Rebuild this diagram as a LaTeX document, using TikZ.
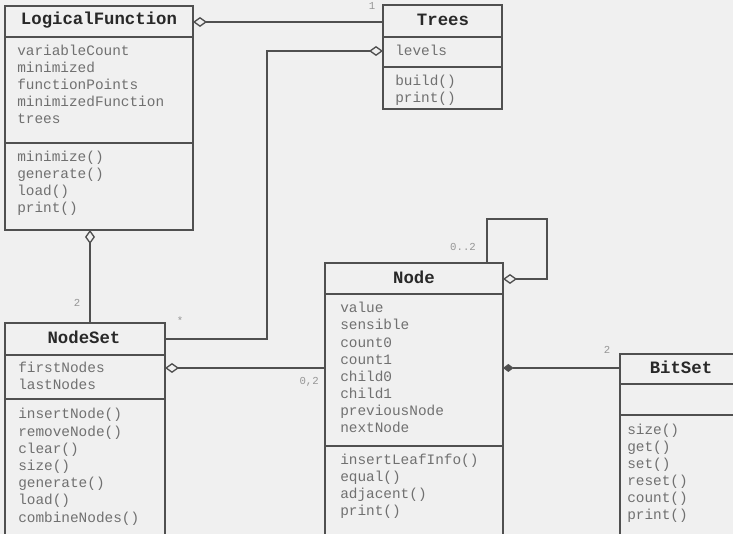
\documentclass[tikz,border=0pt]{standalone}
\usepackage{fontspec}
\setmainfont{Liberation Mono}
\usetikzlibrary{arrows.meta}
\definecolor{bg}{RGB}{240,240,240}
\definecolor{ink}{RGB}{80,80,80}
\definecolor{txt}{RGB}{112,112,112}
\definecolor{ttl}{RGB}{40,40,40}
\definecolor{lbl}{RGB}{150,150,150}
\tikzset{
  classbox/.style={draw=ink, line width=1pt, fill=bg, anchor=north west, inner sep=0pt, outer sep=0pt},
  member/.style={anchor=west, inner sep=0pt, text=txt, font=\fontsize{10.8}{12}\selectfont, text height=1.5ex, text depth=0.4ex},
  ctitle/.style={inner sep=0pt, text=ttl, font=\fontsize{13}{15}\selectfont\bfseries, text height=1.5ex, text depth=0.4ex},
  sep/.style={draw=ink, line width=1pt},
  link/.style={draw=ink, line width=1pt},
  agg/.style={link, {Diamond[open, length=10.5pt, width=7.5pt]}-},
  comp/.style={link, {Diamond[length=8pt, width=6pt]}-},
  mult/.style={text=lbl, font=\fontsize{8}{9}\selectfont, inner sep=0pt},
}
\begin{document}
\begin{tikzpicture}[x=0.75pt, y=-0.75pt]
  \useasboundingbox (0,0) rectangle (733,534);
  \clip (0,0) rectangle (733,534);
  \fill[bg] (0,0) rectangle (733,534);

  % class boxes
  \node[classbox, minimum width=188*0.75pt, minimum height=224*0.75pt] (lf) at (5,6) {};
  \node[classbox, minimum width=119*0.75pt, minimum height=104*0.75pt] (trees) at (383,5) {};
  \node[classbox, minimum width=160*0.75pt, minimum height=240*0.75pt] (ns) at (5,323) {};
  \node[classbox, minimum width=178*0.75pt, minimum height=300*0.75pt] (node) at (325,263) {};
  \node[classbox, minimum width=130*0.75pt, minimum height=220*0.75pt] (bs) at (620,354) {};

  % compartment separators
  \draw[sep] (lf.west |- 0,37) -- (lf.east |- 0,37);
  \draw[sep] (lf.west |- 0,143) -- (lf.east |- 0,143);
  \draw[sep] (trees.west |- 0,37) -- (trees.east |- 0,37);
  \draw[sep] (trees.west |- 0,67) -- (trees.east |- 0,67);
  \draw[sep] (ns.west |- 0,355) -- (ns.east |- 0,355);
  \draw[sep] (ns.west |- 0,399) -- (ns.east |- 0,399);
  \draw[sep] (node.west |- 0,294) -- (node.east |- 0,294);
  \draw[sep] (node.west |- 0,446) -- (node.east |- 0,446);
  \draw[sep] (bs.west |- 0,384) -- (bs.east |- 0,384);
  \draw[sep] (bs.west |- 0,415) -- (bs.east |- 0,415);

  % titles
  \node[ctitle] (lft) at (99,21) {LogicalFunction};
  \node[ctitle] (treest) at (443,22) {Trees};
  \node[ctitle] (nst) at (84,340) {NodeSet};
  \node[ctitle] (nodet) at (414,280) {Node};
  \node[ctitle] (bst) at (681,370) {BitSet};

  % LogicalFunction members
  \foreach \t [count=\i from 0] in {variableCount, minimized, functionPoints, minimizedFunction, trees}
    \node[member] (lfa\i) at (17,52+17*\i) {\t};
  \foreach \t [count=\i from 0] in {minimize(), generate(), load(), print()}
    \node[member] (lfm\i) at (17,158+17*\i) {\t};

  % Trees members
  \node[member] (treesa0) at (395,52) {levels};
  \foreach \t [count=\i from 0] in {build(), print()}
    \node[member] (treesm\i) at (395,82+17*\i) {\t};

  % NodeSet members
  \foreach \t [count=\i from 0] in {firstNodes, lastNodes}
    \node[member] (nsa\i) at (18,369+17*\i) {\t};
  \foreach \t [count=\i from 0] in {insertNode(), removeNode(), clear(), size(), generate(), load(), combineNodes()}
    \node[member] (nsm\i) at (18,415+17.2*\i) {\t};

  % Node members
  \foreach \t [count=\i from 0] in {value, sensible, count0, count1, child0, child1, previousNode, nextNode}
    \node[member] (nodea\i) at (340,309+17.1*\i) {\t};
  \foreach \t [count=\i from 0] in {insertLeafInfo(), equal(), adjacent(), print()}
    \node[member] (nodem\i) at (340,461+17*\i) {\t};

  % BitSet members
  \foreach \t [count=\i from 0] in {size(), get(), set(), reset(), count(), print()}
    \node[member] (bsm\i) at (627,431+17*\i) {\t};

  % associations
  \draw[agg] (lf.east |- 0,22) -- (trees.west |- 0,22);
  \coordinate (bend) at (267,339);
  \draw[agg] (trees.west |- 0,51) -| (bend) -- (ns.east |- bend);
  \draw[agg] (lf.south -| 90,0) -- (ns.north -| 90,0);
  \draw[agg] (ns.east |- 0,368) -- (node.west |- 0,368);
  \coordinate (loopa) at (547,219);
  \coordinate (loopb) at (487,219);
  \draw[agg] (node.east |- 0,279) -| (loopa) -- (loopb) -- (node.north -| loopb);
  \draw[comp] (node.east |- 0,368) -- (bs.west |- 0,368);

  % multiplicities
  \node[mult] (m1) at (372,6) {1};
  \node[mult] (m2) at (180,321) {*};
  \node[mult] (m3) at (77,303) {2};
  \node[mult, anchor=east] (m4) at (319,382) {0,2};
  \node[mult] (m5) at (463,247) {0..2};
  \node[mult] (m6) at (607,350) {2};
\end{tikzpicture}
\end{document}
